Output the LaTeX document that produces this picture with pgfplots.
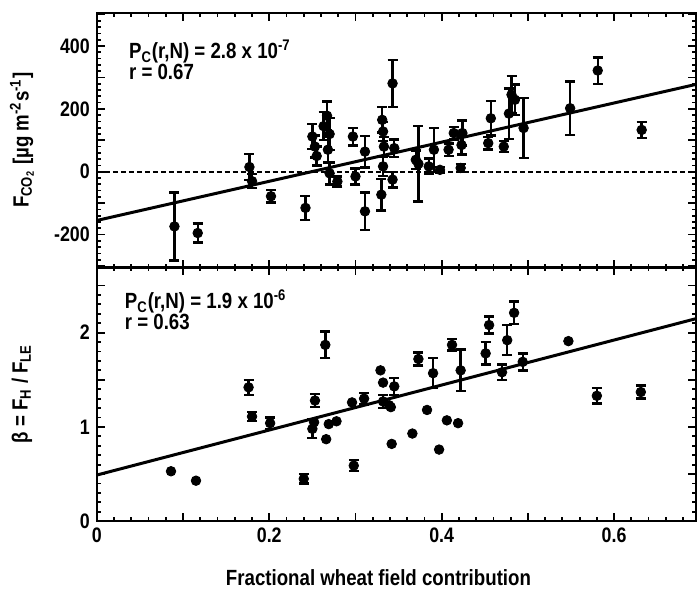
\documentclass[border=0pt]{standalone}
\usepackage{fontspec}
\setmainfont{Liberation Sans}[FakeStretch=0.85]
\usepackage{pgfplots}
\pgfplotsset{compat=1.18}
\usepackage{pgfplotstable}

% F_CO2 vs fractional wheat field contribution
\pgfplotstableread{
x y e
0.090 -174 108
0.117 -195 30
0.177 15 42
0.180 -30 22
0.202 -78 20
0.242 -115 38
0.250 112 40
0.253 80 35
0.255 50 30
0.263 145 45
0.267 178 45
0.270 120 50
0.268 70 40
0.270 -5 35
0.279 -31 16
0.297 112 28
0.300 -15 25
0.311 64 50
0.311 -126 60
0.331 165 40
0.330 -73 50
0.332 128 30
0.333 80 30
0.332 17 30
0.343 281 75
0.345 75 28
0.343 -25 25
0.370 38 30
0.373 25 120
0.385 17 25
0.391 70 70
0.398 6 10
0.408 70 20
0.414 123 20
0.422 12 13
0.424 123 40
0.423 85 30
0.454 91 20
0.457 170 55
0.472 80 18
0.478 185 80
0.481 245 60
0.485 229 48
0.495 139 95
0.549 202 85
0.581 322 42
0.632 133 26
}\co

% beta with error bars
\pgfplotstableread{
x y e
0.176 1.42 0.08
0.180 1.11 0.05
0.201 1.04 0.06
0.240 0.45 0.05
0.253 1.28 0.07
0.250 0.98 0.10
0.265 1.87 0.14
0.298 0.59 0.06
0.310 1.30 0.06
0.332 1.27 0.07
0.345 1.43 0.09
0.373 1.72 0.07
0.390 1.57 0.16
0.412 1.87 0.06
0.422 1.60 0.22
0.451 1.78 0.12
0.455 2.08 0.09
0.470 1.58 0.08
0.476 1.92 0.16
0.484 2.21 0.12
0.494 1.69 0.09
0.580 1.33 0.08
0.631 1.37 0.07
}\betaerr

% beta without error bars
\pgfplotstableread{
x y
0.086 0.53
0.115 0.43
0.252 1.05
0.266 0.87
0.269 1.03
0.278 1.06
0.296 1.26
0.329 1.60
0.332 1.47
0.339 1.23
0.342 0.82
0.341 1.21
0.366 0.93
0.383 1.18
0.397 0.76
0.406 1.07
0.419 1.04
0.547 1.91
}\betadot

\pgfplotsset{
  panel/.style={
    scale only axis,
    width=300pt, height=127.5pt,
    xmin=0, xmax=0.695,
    xtick={0,0.1,...,0.7},
    minor x tick num=4,
    axis line style={line width=1.1pt},
    major tick length=4pt, minor tick length=2pt,
    every tick/.style={black, line width=0.9pt},
    tick label style={font=\fontsize{10.5}{12}\selectfont\bfseries},
    label style={font=\fontsize{11}{13}\selectfont\bfseries},
    ylabel style={at={(axis description cs:-0.125,0.5)}, anchor=center},
  },
  pts/.style={only marks, mark=*, mark size=2.4pt, black,
    error bars/.cd, y dir=both, y explicit,
    error bar style={line width=1.2pt, black},
    error mark options={rotate=90, mark size=2.5pt, line width=1.2pt, black}},
}

\begin{document}
\begin{tikzpicture}
\begin{axis}[panel, at={(0,0)}, anchor=south west,
  ymin=0, ymax=2.7,
  ytick={0,0.5,...,2.5}, yticklabels={0,,1,,2,},
  minor y tick num=4,
  xticklabels={0,,0.2,,0.4,,0.6,},
  xlabel={Fractional wheat field contribution},
  xlabel style={at={(axis description cs:0.47,-0.22)}, anchor=center},
  ylabel={β = F\textsubscript{H} / F\textsubscript{LE}},
]
\addplot[pts] table[x=x, y=y, y error=e] {\betaerr};
\addplot[only marks, mark=*, mark size=2.4pt, black] table[x=x, y=y] {\betadot};
\addplot[black, line width=1.5pt] coordinates {(0,0.49) (0.7,2.16)};
\node[anchor=north west, align=left, font=\fontsize{11}{10.5}\selectfont\bfseries]
  at (rel axis cs:0.035,0.935) {P\textsubscript{C}(r,N) = 1.9 x 10\textsuperscript{-6}\\ r = 0.63};
\end{axis}

\begin{axis}[panel, at={(0,127pt)}, anchor=south west,
  ymin=-305, ymax=505,
  ytick={-300,-200,...,500}, yticklabels={,-200,,0,,200,,400,},
  minor y tick num=4,
  xticklabels={},
  ylabel={F\textsubscript{CO\textsubscript{2}} [µg m\textsuperscript{-2}s\textsuperscript{-1}]},
]
\addplot[black, line width=1.1pt, dash pattern=on 2.5pt off 1.5pt] coordinates {(0,0) (0.7,0)};
\addplot[pts] table[x=x, y=y, y error=e] {\co};
\addplot[black, line width=1.5pt] coordinates {(0,-155) (0.7,281)};
\node[anchor=north west, align=left, font=\fontsize{11}{10.5}\selectfont\bfseries]
  at (rel axis cs:0.042,0.92) {P\textsubscript{C}(r,N) = 2.8 x 10\textsuperscript{-7}\\ r = 0.67};
\end{axis}
\pgfresetboundingbox
\path[use as bounding box] (-48.5pt,-35.5pt) rectangle (300.5pt,261pt);
\end{tikzpicture}
\end{document}
